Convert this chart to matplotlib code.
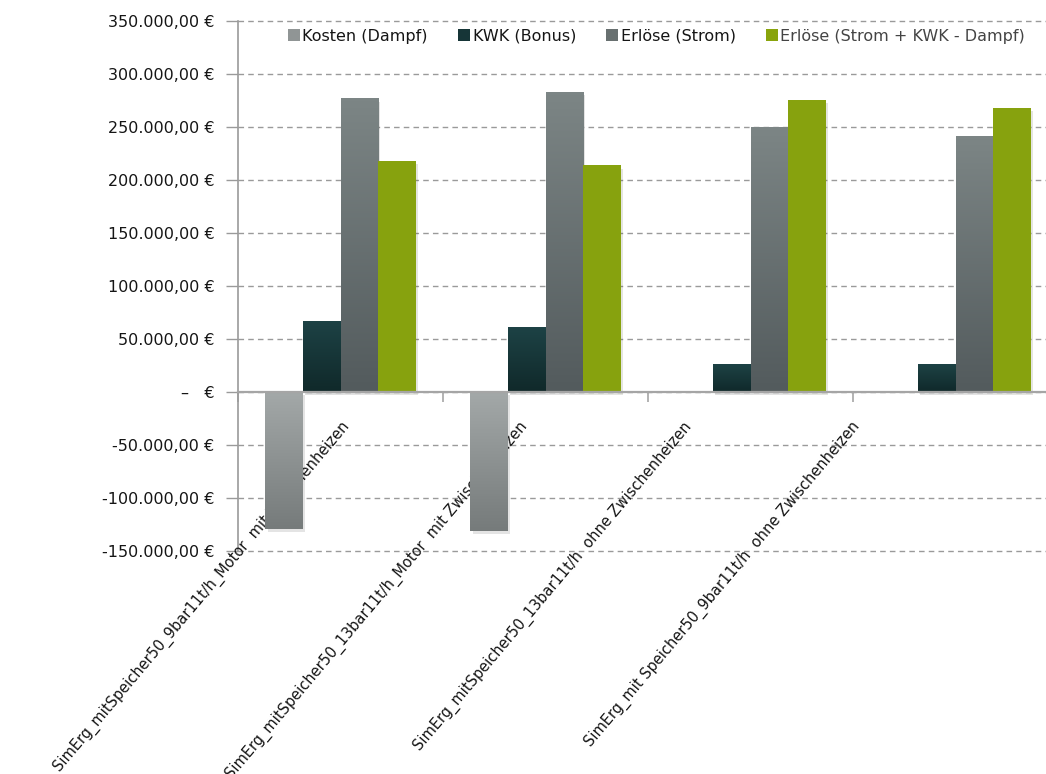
import numpy as np
import matplotlib
matplotlib.use("Agg")
import matplotlib.pyplot as plt
from matplotlib.colors import LinearSegmentedColormap
from matplotlib.ticker import FuncFormatter, MultipleLocator
from matplotlib.transforms import blended_transform_factory, offset_copy
from matplotlib.patches import Patch
import matplotlib.patheffects as pe

# -------- data
categories = [
    "SimErg_mitSpeicher50_9bar11t/h_Motor  mit Zwischenheizen",
    "SimErg_mitSpeicher50_13bar11t/h_Motor  mit Zwischenheizen",
    "SimErg_mitSpeicher50_13bar11t/h  ohne Zwischenheizen",
    "SimErg_mit Speicher50_9bar11t/h  ohne Zwischenheizen",
]
series = ["Kosten (Dampf)", "KWK (Bonus)", "Erlöse (Strom)", "Erlöse (Strom + KWK - Dampf)"]
kosten = [-129000, -131000, 0, 0]
kwk = [67000, 61000, 26000, 26000]
strom = [277000, 283000, 250000, 241500]
erloese = [218000, 214000, 275500, 268000]

# -------- styles
grad = [("#767b7b", "#a3a8a8"), ("#10292a", "#1d4245"), ("#535b5d", "#7c8585"), ("#87a20e", "#87a20e")]
legend_cols = ["#909595", "#163537", "#687070", "#89a40c"]
label_x = [0.0, 0.87, 1.67, 2.49]   # anchor of rotated category labels
txt = "#151515"

plt.rcParams['font.family'] = ['DejaVu Sans']

fig = plt.figure(figsize=(10.46, 7.74), dpi=100)
ax = fig.add_axes([238/1046, 1-551/774, 820/1046, 530/774])

n = len(categories)
x = np.arange(n)
w = 0.183
vals = [kosten, kwk, strom, erloese]

for i, v in enumerate(vals):
    bars = ax.bar(x + (i - 1.5) * w, v, w, color=grad[i][0], linewidth=0, zorder=3,
                  path_effects=[pe.SimplePatchShadow(offset=(1.5, -2.5), alpha=0.12), pe.Normal()])
    cmap = LinearSegmentedColormap.from_list("g%d" % i, [grad[i][0], grad[i][1]])
    for b in bars:
        h = b.get_height()
        if h == 0:
            continue
        x0 = b.get_x()
        y0, y1 = sorted([b.get_y(), b.get_y() + h])
        im = ax.imshow(np.linspace(1, 0, 64).reshape(-1, 1), cmap=cmap, vmin=0, vmax=1,
                       extent=[x0, x0 + b.get_width(), y0, y1], aspect='auto',
                       origin='upper', zorder=4, interpolation='bilinear')
        im.set_clip_path(b)

ax.set_xlim(-0.5, n - 0.5)
ax.set_ylim(-150000, 350000)
ax.set_aspect('auto')

# -------- axes styling
for s in ['top', 'right']:
    ax.spines[s].set_visible(False)
ax.spines['left'].set_color('#9a9a9a')
ax.spines['left'].set_linewidth(1.2)
ax.spines['bottom'].set_position(('data', 0))
ax.spines['bottom'].set_color('#a5a5a5')
ax.spines['bottom'].set_linewidth(1.6)
ax.spines['bottom'].set_zorder(5)

ax.yaxis.set_major_locator(MultipleLocator(50000))
ax.yaxis.grid(True, color='#9a9a9a', linestyle=(0, (4, 3)), linewidth=1.0, zorder=1)
for gl in ax.get_ygridlines():
    gl.set_clip_on(False)
ax.tick_params(axis='y', direction='out', length=9, color='#9a9a9a', width=1.0,
               labelsize=11.5, labelcolor=txt, pad=8)

def eur(v, pos):
    if abs(v) < 1:
        return "–   €"
    s = "{:,.2f}".format(v).replace(",", "X").replace(".", ",").replace("X", ".")
    return s + " €"

ax.yaxis.set_major_formatter(FuncFormatter(eur))

ax.set_xticks(np.arange(n + 1) - 0.5)
ax.set_xticklabels([])
ax.tick_params(axis='x', direction='out', length=7, color='#a5a5a5', width=1.2)

# -------- rotated category labels
base = blended_transform_factory(ax.transData, ax.transData)
tr = offset_copy(base, fig=fig, x=0, y=-27, units='dots')
for lx, lab in zip(label_x, categories):
    ax.text(lx, 0, lab, transform=tr, rotation=50, rotation_mode='anchor',
            ha='right', va='top', fontsize=10.5, color=txt, clip_on=False)

# -------- legend
handles = [Patch(facecolor=c, edgecolor='none') for c in legend_cols]
leg = fig.legend(handles, series, loc='center left', bbox_to_anchor=(288/1046, 1-36/774),
                 ncol=4, frameon=False, fontsize=11.5, handlelength=0.72, handleheight=0.72,
                 handletextpad=0.18, columnspacing=1.9, borderpad=0, borderaxespad=0,
                 labelcolor=txt)
leg.get_texts()[3].set_color('#444444')

fig.savefig("out.png", dpi=100)
